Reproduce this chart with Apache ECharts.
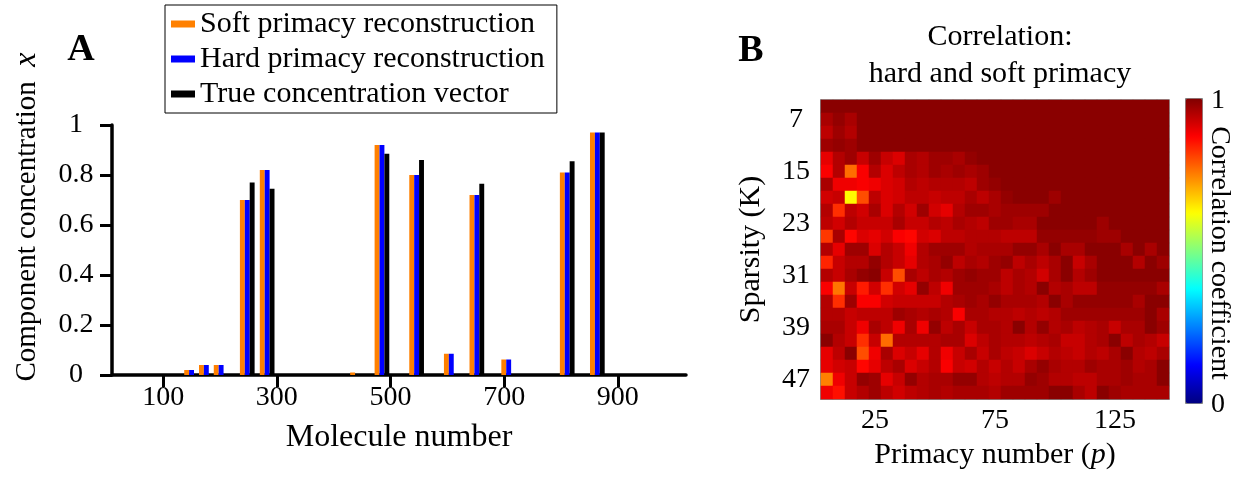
<!DOCTYPE html>
<html>
<head>
<meta charset="utf-8">
<script src="https://cdn.jsdelivr.net/npm/echarts@6/dist/echarts.min.js"></script>
<style>
  html, body { margin: 0; padding: 0; background: #fff; }
  #main { width: 1235px; height: 479px; }
</style>
</head>
<body>
<div id="main"></div>
<script>
// panel A: reconstructed concentration per molecule
const moleculeNumbers = [150, 176, 202, 248, 283, 442, 485, 546, 607, 652, 708, 811, 864];
const softPrimacy = [0.02, 0.04, 0.04, 0.70, 0.82, 0.01, 0.92, 0.80, 0.085, 0.72, 0.062, 0.81, 0.97];
const hardPrimacy = [0.02, 0.04, 0.04, 0.70, 0.82, 0, 0.92, 0.80, 0.085, 0.72, 0.062, 0.81, 0.97];
const trueVector = [0, 0, 0, 0.77, 0.745, 0, 0.885, 0.86, 0, 0.765, 0, 0.855, 0.97];
const moleculeTicks = [100, 300, 500, 700, 900];

// panel B: correlation between hard and soft primacy
const primacyNumbers = ['5', '10', '15', '20', '25', '30', '35', '40', '45', '50', '55', '60', '65', '70', '75',
  '80', '85', '90', '95', '100', '105', '110', '115', '120', '125', '130', '135', '140', '145'];
const sparsityLevels = ['5', '7', '9', '11', '13', '15', '17', '19', '21', '23', '25', '27', '29', '31', '33',
  '35', '37', '39', '41', '43', '45', '47', '49'];
const primacyTicks = ['25', '75', '125'];
const sparsityTicks = ['7', '15', '23', '31', '39', '47'];
const corrRows = [
  [0.99, 0.99, 0.99, 0.99, 0.99, 0.99, 0.99, 0.99, 0.99, 0.99, 0.99, 0.99, 0.99, 0.99, 0.99, 0.99, 0.99, 0.99, 0.99, 0.99, 0.99, 0.99, 0.99, 0.99, 0.99, 0.99, 0.99, 0.99, 0.99],
  [0.96, 0.98, 0.96, 0.99, 0.99, 0.99, 0.99, 0.99, 0.99, 0.99, 0.99, 0.99, 0.99, 0.99, 0.99, 0.99, 0.99, 0.99, 0.99, 0.99, 0.99, 0.99, 0.99, 0.99, 0.99, 0.99, 0.99, 0.99, 0.99],
  [0.94, 0.97, 0.95, 0.99, 0.99, 0.99, 0.99, 0.99, 0.99, 0.99, 0.99, 0.99, 0.99, 0.99, 0.99, 0.99, 0.99, 0.99, 0.99, 0.99, 0.99, 0.99, 0.99, 0.99, 0.99, 0.99, 0.99, 0.99, 0.99],
  [0.97, 0.98, 0.97, 0.99, 0.99, 0.99, 0.99, 0.99, 0.99, 0.99, 0.99, 0.99, 0.99, 0.99, 0.99, 0.99, 0.99, 0.99, 0.99, 0.99, 0.99, 0.99, 0.99, 0.99, 0.99, 0.99, 0.99, 0.99, 0.99],
  [0.90, 0.95, 0.97, 0.93, 0.97, 0.93, 0.91, 0.96, 0.95, 0.97, 0.97, 0.96, 0.98, 0.99, 0.99, 0.99, 0.99, 0.99, 0.99, 0.99, 0.99, 0.99, 0.99, 0.99, 0.99, 0.99, 0.99, 0.99, 0.99],
  [0.88, 0.95, 0.77, 0.88, 0.95, 0.91, 0.94, 0.96, 0.95, 0.97, 0.96, 0.97, 0.96, 0.97, 0.99, 0.99, 0.99, 0.99, 0.99, 0.99, 0.99, 0.99, 0.99, 0.99, 0.99, 0.99, 0.99, 0.99, 0.99],
  [0.96, 0.89, 0.89, 0.88, 0.89, 0.91, 0.92, 0.95, 0.94, 0.95, 0.95, 0.95, 0.94, 0.97, 0.98, 0.99, 0.99, 0.99, 0.99, 0.99, 0.99, 0.99, 0.99, 0.99, 0.99, 0.99, 0.99, 0.99, 0.99],
  [0.92, 0.93, 0.63, 0.80, 0.94, 0.91, 0.92, 0.94, 0.94, 0.93, 0.94, 0.94, 0.96, 0.94, 0.96, 0.98, 0.99, 0.99, 0.99, 0.97, 0.99, 0.99, 0.99, 0.99, 0.99, 0.99, 0.99, 0.99, 0.99],
  [0.95, 0.83, 0.94, 0.92, 0.96, 0.91, 0.95, 0.92, 0.97, 0.92, 0.90, 0.95, 0.97, 0.97, 0.96, 0.97, 0.97, 0.97, 0.97, 0.99, 0.99, 0.99, 0.99, 0.99, 0.99, 0.99, 0.99, 0.99, 0.99],
  [0.94, 0.92, 0.95, 0.93, 0.93, 0.93, 0.96, 0.93, 0.93, 0.95, 0.94, 0.96, 0.95, 0.94, 0.97, 0.97, 0.96, 0.96, 0.99, 0.99, 0.99, 0.99, 0.99, 0.97, 0.99, 0.99, 0.99, 0.99, 0.99],
  [0.82, 0.96, 0.87, 0.91, 0.90, 0.92, 0.88, 0.87, 0.92, 0.91, 0.94, 0.94, 0.95, 0.95, 0.95, 0.94, 0.94, 0.94, 0.98, 0.98, 0.98, 0.98, 0.98, 0.97, 0.97, 0.99, 0.99, 0.99, 0.99],
  [0.95, 0.90, 0.97, 0.97, 0.91, 0.95, 0.93, 0.89, 0.95, 0.97, 0.97, 0.97, 0.95, 0.96, 0.96, 0.96, 0.98, 0.98, 0.96, 0.99, 0.96, 0.96, 0.99, 0.99, 0.99, 0.96, 0.99, 0.96, 0.99],
  [0.84, 0.93, 0.95, 0.95, 0.98, 0.95, 0.93, 0.90, 0.95, 0.96, 0.98, 0.94, 0.96, 0.95, 0.97, 0.98, 0.94, 0.96, 0.94, 0.96, 0.99, 0.93, 0.96, 0.99, 0.99, 0.99, 0.95, 0.99, 0.97],
  [0.95, 0.93, 0.96, 0.98, 0.99, 0.93, 0.80, 0.96, 0.94, 0.96, 0.95, 0.97, 0.98, 0.97, 0.97, 0.94, 0.96, 0.95, 0.92, 0.96, 0.99, 0.95, 0.97, 0.99, 0.99, 0.99, 0.99, 0.99, 0.99],
  [0.88, 0.76, 0.93, 0.85, 0.92, 0.83, 0.92, 0.90, 0.98, 0.94, 0.89, 0.97, 0.97, 0.97, 0.96, 0.94, 0.96, 0.95, 0.99, 0.95, 0.96, 0.94, 0.94, 0.98, 0.98, 0.98, 0.98, 0.98, 0.96],
  [0.95, 0.83, 0.97, 0.88, 0.88, 0.92, 0.93, 0.93, 0.93, 0.93, 0.95, 0.96, 0.97, 0.96, 0.98, 0.96, 0.96, 0.96, 0.95, 0.99, 0.96, 0.98, 0.98, 0.98, 0.98, 0.98, 0.96, 0.99, 0.99],
  [0.95, 0.95, 0.93, 0.94, 0.94, 0.94, 0.97, 0.96, 0.95, 0.96, 0.95, 0.88, 0.96, 0.96, 0.95, 0.95, 0.94, 0.95, 0.94, 0.95, 0.97, 0.97, 0.97, 0.97, 0.97, 0.97, 0.97, 0.99, 0.96],
  [0.96, 0.96, 0.93, 0.89, 0.96, 0.94, 0.89, 0.96, 0.89, 0.98, 0.94, 0.96, 0.93, 0.96, 0.96, 0.95, 0.99, 0.95, 0.98, 0.95, 0.96, 0.94, 0.95, 0.96, 0.93, 0.96, 0.96, 0.99, 0.97],
  [0.99, 0.95, 0.93, 0.83, 0.93, 0.77, 0.95, 0.95, 0.95, 0.95, 0.96, 0.96, 0.91, 0.94, 0.96, 0.95, 0.95, 0.94, 0.95, 0.96, 0.93, 0.93, 0.95, 0.96, 0.99, 0.94, 0.96, 0.95, 0.93],
  [0.90, 0.94, 0.99, 0.80, 0.89, 0.96, 0.91, 0.93, 0.90, 0.95, 0.89, 0.93, 0.96, 0.93, 0.96, 0.94, 0.93, 0.91, 0.93, 0.95, 0.94, 0.93, 0.95, 0.94, 0.96, 0.99, 0.95, 0.94, 0.96],
  [0.90, 0.92, 0.93, 0.87, 0.90, 0.94, 0.96, 0.91, 0.93, 0.95, 0.88, 0.93, 0.92, 0.95, 0.93, 0.95, 0.93, 0.96, 0.98, 0.96, 0.95, 0.95, 0.97, 0.96, 0.96, 0.97, 0.95, 0.96, 0.99],
  [0.75, 0.89, 0.93, 0.98, 0.97, 0.90, 0.93, 0.98, 0.95, 0.96, 0.96, 0.98, 0.98, 0.95, 0.94, 0.95, 0.95, 0.98, 0.97, 0.95, 0.95, 0.94, 0.94, 0.96, 0.96, 0.97, 0.96, 0.96, 0.99],
  [0.89, 0.86, 0.93, 0.95, 0.97, 0.94, 0.92, 0.94, 0.95, 0.96, 0.95, 0.96, 0.96, 0.96, 0.95, 0.97, 0.97, 0.97, 0.97, 0.99, 0.99, 0.96, 0.94, 0.99, 0.97, 0.96, 0.96, 0.96, 0.96]
];

// MATLAB jet
const jetColors = ['#000080', '#0000ff', '#0080ff', '#00ffff', '#80ff80', '#ffff00', '#ff8000', '#ff0000', '#800000'];

const serif = "'Liberation Serif', 'DejaVu Serif', serif";

const heatData = [];
corrRows.forEach(function (row, y) {
  row.forEach(function (v, x) {
    heatData.push([x, y, v]);
  });
});

function barSeries (name, values, color) {
  return {
    type: 'bar',
    name: name,
    xAxisIndex: 0,
    yAxisIndex: 0,
    barWidth: 4.9,
    barGap: '0%',
    itemStyle: { color: color },
    data: moleculeNumbers.map(function (m, i) { return [m, values[i]] })
  }
}

const chart = echarts.init(document.getElementById('main'), null, { renderer: 'canvas' });
chart.setOption({
  animation: false,
  backgroundColor: '#fff',
  textStyle: { fontFamily: serif, color: '#000' },
  title: {
    text: 'Correlation:\nhard and soft primacy',
    left: 995,
    top: 14,
    textAlign: 'center',
    textStyle: { fontFamily: serif, fontSize: 30, fontWeight: 'normal', color: '#000', lineHeight: 37 }
  },
  legend: {
    orient: 'vertical',
    left: 165,
    top: 5,
    padding: [4, 12, 4, 6],
    itemGap: 5,
    itemWidth: 24,
    itemHeight: 7,
    icon: 'rect',
    borderColor: '#000',
    borderWidth: 1,
    textStyle: { fontFamily: serif, fontSize: 30, color: '#000' },
    data: ['Soft primacy reconstruction', 'Hard primacy reconstruction', 'True concentration vector']
  },
  grid: [
    { left: 112, top: 125, width: 574, height: 250 },
    { left: 821, top: 100, width: 348, height: 299, show: true, borderColor: '#808080', borderWidth: 1.5 }
  ],
  xAxis: [
    {
      type: 'value',
      gridIndex: 0,
      min: 10,
      max: 1020,
      name: 'Molecule number',
      nameLocation: 'middle',
      nameGap: 47,
      nameTextStyle: { fontFamily: serif, fontSize: 32, color: '#000' },
      axisLine: { lineStyle: { color: '#000', width: 3.5 } },
      axisTick: { customValues: moleculeTicks, length: 12, lineStyle: { color: '#000', width: 3 } },
      axisLabel: { customValues: moleculeTicks, margin: 9, fontFamily: serif, fontSize: 28, color: '#000' },
      splitLine: { show: false }
    },
    {
      type: 'category',
      gridIndex: 1,
      data: primacyNumbers,
      name: '{a|Primacy number (}{i|p}{a|)}',
      nameLocation: 'middle',
      nameGap: 41,
      nameTextStyle: {
        rich: {
          a: { fontFamily: serif, fontSize: 30, color: '#000' },
          i: { fontFamily: serif, fontSize: 30, fontStyle: 'italic', color: '#000' }
        }
      },
      axisLine: { lineStyle: { color: '#808080', width: 1.5 } },
      axisTick: { show: false },
      axisLabel: {
        interval: function (i, v) { return primacyTicks.indexOf(v) >= 0 },
        margin: 8,
        fontFamily: serif,
        fontSize: 28,
        color: '#000'
      },
      splitLine: { show: false }
    }
  ],
  yAxis: [
    {
      type: 'value',
      gridIndex: 0,
      min: 0,
      max: 1,
      interval: 0.2,
      axisLine: { show: true, lineStyle: { color: '#000', width: 3.5 } },
      axisTick: { show: true, length: 12, lineStyle: { color: '#000', width: 3 } },
      axisLabel: { align: 'center', margin: 36, fontFamily: serif, fontSize: 28, color: '#000' },
      splitLine: { show: false }
    },
    {
      type: 'category',
      gridIndex: 1,
      inverse: true,
      data: sparsityLevels,
      name: 'Sparsity (K)',
      nameLocation: 'middle',
      nameGap: 55,
      nameTextStyle: { fontFamily: serif, fontSize: 30, color: '#000' },
      axisLine: { lineStyle: { color: '#808080', width: 1.5 } },
      axisTick: { show: false },
      axisLabel: {
        interval: function (i, v) { return sparsityTicks.indexOf(v) >= 0 },
        align: 'center',
        margin: 25,
        fontFamily: serif,
        fontSize: 28,
        color: '#000'
      },
      splitLine: { show: false }
    }
  ],
  visualMap: {
    type: 'continuous',
    seriesIndex: 3,
    min: 0,
    max: 1,
    calculable: false,
    orient: 'vertical',
    left: 1185,
    top: 98,
    itemWidth: 17,
    itemHeight: 305,
    padding: 0,
    borderColor: '#808080',
    borderWidth: 1,
    hoverLink: false,
    inRange: { color: jetColors }
  },
  graphic: [
    { type: 'text', x: 81, y: 50, style: { text: 'A', font: 'bold 38px ' + serif, fill: '#000', align: 'center', verticalAlign: 'middle' } },
    { type: 'text', x: 751, y: 51, style: { text: 'B', font: 'bold 38px ' + serif, fill: '#000', align: 'center', verticalAlign: 'middle' } },
    {
      type: 'text', x: 27, y: 217, rotation: Math.PI / 2,
      style: {
        text: '{a|Component concentration  }{i|x}',
        align: 'center',
        verticalAlign: 'middle',
        rich: {
          a: { fontFamily: serif, fontSize: 29, fill: '#000' },
          i: { fontFamily: serif, fontSize: 32, fontStyle: 'italic', fill: '#000' }
        }
      }
    },
    { type: 'text', x: 1211, y: 101, style: { text: '1', font: '28px ' + serif, fill: '#000', align: 'left', verticalAlign: 'middle' } },
    { type: 'text', x: 1211, y: 405, style: { text: '0', font: '28px ' + serif, fill: '#000', align: 'left', verticalAlign: 'middle' } },
    { type: 'text', x: 1219, y: 253, rotation: -Math.PI / 2, style: { text: 'Correlation coefficient', font: '28px ' + serif, fill: '#000', align: 'center', verticalAlign: 'middle' } }
  ],
  series: [
    barSeries('Soft primacy reconstruction', softPrimacy, '#ff8000'),
    barSeries('Hard primacy reconstruction', hardPrimacy, '#0000ff'),
    barSeries('True concentration vector', trueVector, '#000000'),
    {
      type: 'heatmap',
      xAxisIndex: 1,
      yAxisIndex: 1,
      data: heatData,
      itemStyle: { borderWidth: 0 },
      emphasis: { disabled: true }
    }
  ]
});
</script>
</body>
</html>
